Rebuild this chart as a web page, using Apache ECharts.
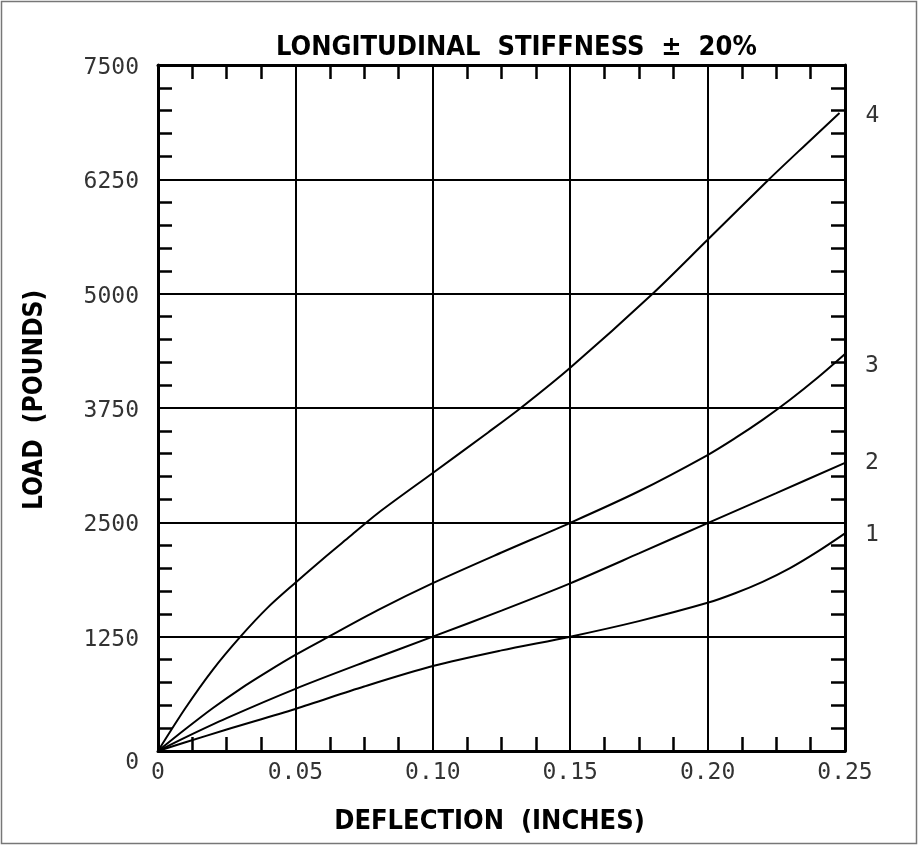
<!DOCTYPE html>
<html>
<head>
<meta charset="utf-8">
<script src="https://cdn.jsdelivr.net/npm/echarts@6/dist/echarts.min.js"></script>
<style>
  html, body { margin: 0; padding: 0; background: #fff; }
  #chart { width: 919px; height: 846px; }
</style>
</head>
<body>
<div id="chart"></div>
<script>
// ---- data ----
const titleText = 'LONGITUDINAL  STIFFNESS  \u00B1  20%';
const xAxisName = 'DEFLECTION  (INCHES)';
const yAxisName = 'LOAD  (POUNDS)';
const xTicks = [0, 0.05, 0.10, 0.15, 0.20, 0.25];
const yTicks = [0, 1250, 2500, 3750, 5000, 6250, 7500];
const curveNames = ['1', '2', '3', '4'];

const defl1 = [0, 0.01, 0.025, 0.05, 0.075, 0.10, 0.125, 0.15, 0.175, 0.20, 0.21, 0.22, 0.23, 0.24, 0.25];
const load1 = [0, 95, 235, 460, 705, 929, 1100, 1250, 1420, 1620, 1725, 1850, 2000, 2180, 2380];

const defl2 = [0, 0.01, 0.025, 0.05, 0.075, 0.10, 0.125, 0.15, 0.175, 0.20, 0.225, 0.25];
const load2 = [0, 150, 360, 680, 970, 1250, 1535, 1833, 2160, 2492, 2820, 3150];

const defl3 = [0, 0.01, 0.02, 0.03, 0.04, 0.05, 0.06, 0.08, 0.10, 0.125, 0.15, 0.175, 0.20, 0.21, 0.22, 0.23, 0.24, 0.25];
const load3 = [0, 240, 470, 680, 870, 1050, 1215, 1540, 1835, 2170, 2495, 2840, 3236, 3420, 3620, 3840, 4080, 4340];

const defl4 = [0, 0.01, 0.02, 0.03, 0.04, 0.05, 0.06, 0.07, 0.08, 0.10, 0.12, 0.132, 0.15, 0.18, 0.20, 0.222, 0.235, 0.248];
const load4 = [0, 470, 890, 1250, 1570, 1840, 2100, 2350, 2600, 3040, 3480, 3750, 4190, 5000, 5590, 6240, 6610, 6975];

// ---- build ----
const zip = (xs, ys) => xs.map((x, i) => [x, ys[i]]);
const curves = [zip(defl1, load1), zip(defl2, load2), zip(defl3, load3), zip(defl4, load4)];
const labelOffsets = [[0, 2], [0, 0], [0, 12], [6, 3]];

const tickFont = 'DejaVu Sans Mono';
const boldFont = 'DejaVu Sans Condensed, Liberation Sans, sans-serif';
const black = '#000';

const minorX = { show: true, splitNumber: 4, length: 14, lineStyle: { color: black, width: 2.5 } };
const minorY = { show: true, splitNumber: 5, length: 14, lineStyle: { color: black, width: 2.5 } };
const frameLine = { show: true, onZero: false, lineStyle: { color: black, width: 3 } };

const chart = echarts.init(document.getElementById('chart'), null, { renderer: 'canvas' });
chart.setOption({
  backgroundColor: '#fff',
  animation: false,
  title: {
    text: titleText,
    left: 271,
    top: 29,
    textStyle: { fontFamily: boldFont, fontWeight: 'bold', fontSize: 27, color: '#000' }
  },
  graphic: [{
    type: 'rect', silent: true,
    shape: { x: 1.5, y: 1.5, width: 915, height: 842 },
    style: { fill: 'none', stroke: '#777', lineWidth: 1.5 }
  }],
  grid: { left: 158, right: 74, top: 65, bottom: 95 },
  xAxis: [{
    type: 'value', position: 'bottom', min: xTicks[0], max: xTicks[xTicks.length - 1], interval: 0.05,
    axisLine: frameLine,
    axisTick: { show: false, inside: true },
    minorTick: minorX,
    splitLine: { show: true, lineStyle: { color: black, width: 2 } },
    axisLabel: {
      margin: 11, fontFamily: tickFont, fontSize: 23, color: '#333',
      formatter: v => (v === 0 ? '0' : v.toFixed(2))
    },
    name: xAxisName, nameLocation: 'middle', nameGap: 57,
    nameTextStyle: { fontFamily: boldFont, fontWeight: 'bold', fontSize: 27, color: '#000', padding: [0, 24, 0, 0] }
  }, {
    type: 'value', position: 'top', min: xTicks[0], max: xTicks[xTicks.length - 1], interval: 0.05,
    axisLine: frameLine,
    axisTick: { show: false, inside: true },
    minorTick: minorX,
    splitLine: { show: false },
    axisLabel: { show: false }
  }],
  yAxis: [{
    type: 'value', position: 'left', min: yTicks[0], max: yTicks[yTicks.length - 1], interval: 1250,
    axisLine: frameLine,
    axisTick: { show: false, inside: true },
    minorTick: minorY,
    splitLine: { show: true, lineStyle: { color: black, width: 2 } },
    axisLabel: {
      margin: 19, fontFamily: tickFont, fontSize: 23, color: '#333',
      formatter: v => (v === 0 ? '{z|0}' : '{n|' + v + '}'),
      rich: {
        z: { fontFamily: tickFont, fontSize: 23, color: '#333', padding: [24, 0, 0, 0] },
        n: { fontFamily: tickFont, fontSize: 23, color: '#333', padding: [6, 0, 0, 0] }
      }
    },
    name: yAxisName, nameLocation: 'middle', nameGap: 110, nameRotate: 90,
    nameTextStyle: { fontFamily: boldFont, fontWeight: 'bold', fontSize: 26, color: '#000', padding: [0, 0, 0, 16] }
  }, {
    type: 'value', position: 'right', min: yTicks[0], max: yTicks[yTicks.length - 1], interval: 1250,
    axisLine: frameLine,
    axisTick: { show: false, inside: true },
    minorTick: minorY,
    splitLine: { show: false },
    axisLabel: { show: false }
  }],
  series: curves.map((d, i) => ({
    type: 'line',
    name: curveNames[i],
    xAxisIndex: 0, yAxisIndex: 0,
    data: d,
    smooth: 0.3,
    showSymbol: false,
    symbol: 'none',
    lineStyle: { color: black, width: 2 },
    z: 5,
    endLabel: {
      show: true, formatter: curveNames[i], distance: 20, offset: labelOffsets[i],
      fontFamily: tickFont, fontSize: 23, color: '#333'
    }
  }))
});
</script>
</body>
</html>
